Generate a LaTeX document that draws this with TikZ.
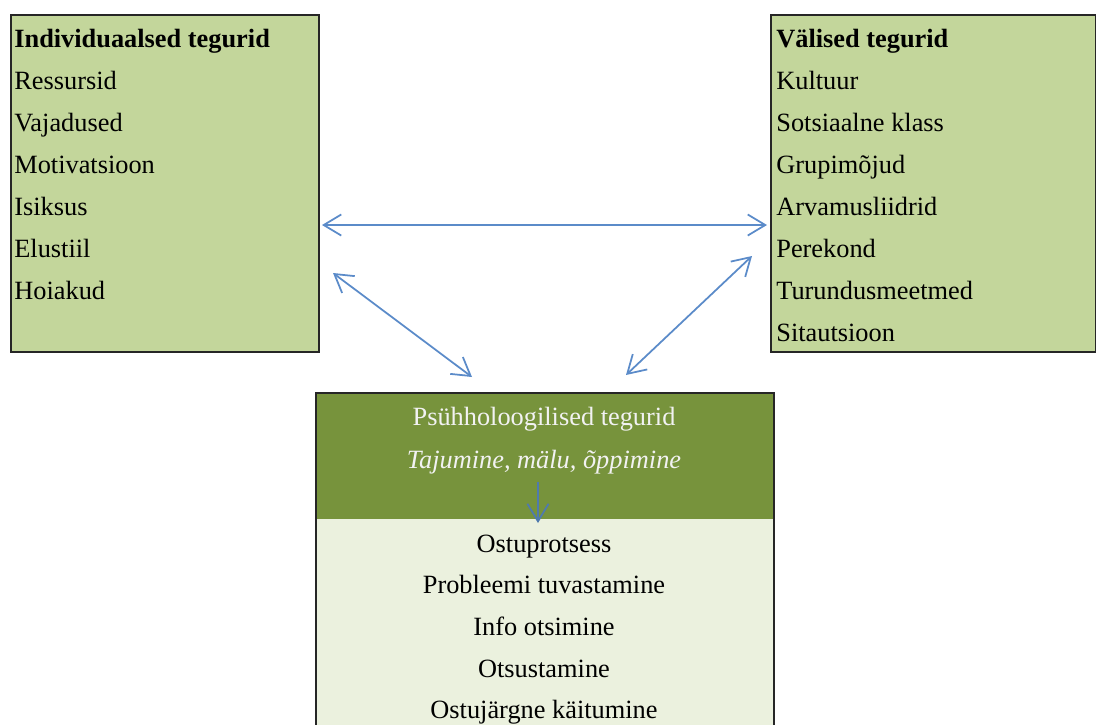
\documentclass[tikz,border=0pt]{standalone}
\usepackage{fontspec}
\setmainfont{Liberation Serif}
\usetikzlibrary{arrows.meta}

\begin{document}
\begin{tikzpicture}[x=0.02cm,y=-0.02cm,>={Straight Barb[length=10pt,width=12pt]}]

\definecolor{boxgreen}{HTML}{C3D69B}
\definecolor{headgreen}{HTML}{77933C}
\definecolor{palegreen}{HTML}{EBF1DE}
\definecolor{arrowblue}{HTML}{5B8BC9}
\definecolor{innerblue}{HTML}{4F7AAE}

\tikzset{
	box/.style={draw=black!85,line width=1pt,anchor=north west,inner sep=0pt},
	item/.style={anchor=base west,inner sep=0pt,font=\fontsize{15}{18}\selectfont},
	line/.style={anchor=base,inner sep=0pt,font=\fontsize{15}{18}\selectfont},
	link/.style={<->,draw=arrowblue,line width=1pt}
}

\useasboundingbox (0,0) rectangle (1096,724);

% the three boxes
\node[box,fill=boxgreen,minimum width=6.16cm,minimum height=6.74cm] (ind) at (10,14) {};
\node[box,fill=boxgreen,minimum width=6.5cm,minimum height=6.74cm] (val) at (770,14) {};
\node[box,draw=none,fill=headgreen,minimum width=9.12cm,minimum height=2.5cm] (psy) at (316,393) {};
\node[box,draw=none,fill=palegreen,minimum width=9.12cm,minimum height=4.4cm] (proc) at (316,518) {};
\draw[black!85,line width=1pt] (psy.north west) rectangle (proc.south east);

% left list
\node[item] (indhead) at (14,47) {\textbf{Individuaalsed tegurid}};
\foreach \t [count=\i] in {Ressursid,Vajadused,Motivatsioon,Isiksus,Elustiil,Hoiakud}{
	\node[item] (ind\i) at (14,{47+42*\i}) {\t};
}

% right list
\node[item] (valhead) at (776,47) {\textbf{Välised tegurid}};
\foreach \t [count=\i] in {Kultuur,Sotsiaalne klass,Grupimõjud,Arvamusliidrid,Perekond,Turundusmeetmed,Sitautsioon}{
	\node[item] (val\i) at (776,{47+42*\i}) {\t};
}

% bottom box
\node[line,text=white!95!black] (psyhead) at (544,425) {Psühholoogilised tegurid};
\node[line,text=white!95!black] (psysub) at (544,468) {\textit{Tajumine, mälu, õppimine}};
\foreach \t [count=\i] in {Ostuprotsess,Probleemi tuvastamine,Info otsimine,Otsustamine,Ostujärgne käitumine}{
	\node[line] (step\i) at (544,{510.3+41.7*\i}) {\t};
}

% arrows
\coordinate (indR) at (322,225);
\coordinate (valL) at (767,225);
\coordinate (indD) at (333,273);
\coordinate (procL) at (472,377);
\coordinate (valD) at (752,256);
\coordinate (procR) at (626,375);
\coordinate (innerA) at (538,482);
\coordinate (innerB) at (538,523);

\draw[link] (indR) -- (valL);
\draw[link] (indD) -- (procL);
\draw[link] (valD) -- (procR);
\draw[->,draw=innerblue,line width=1pt] (innerA) -- (innerB);

\end{tikzpicture}
\end{document}
